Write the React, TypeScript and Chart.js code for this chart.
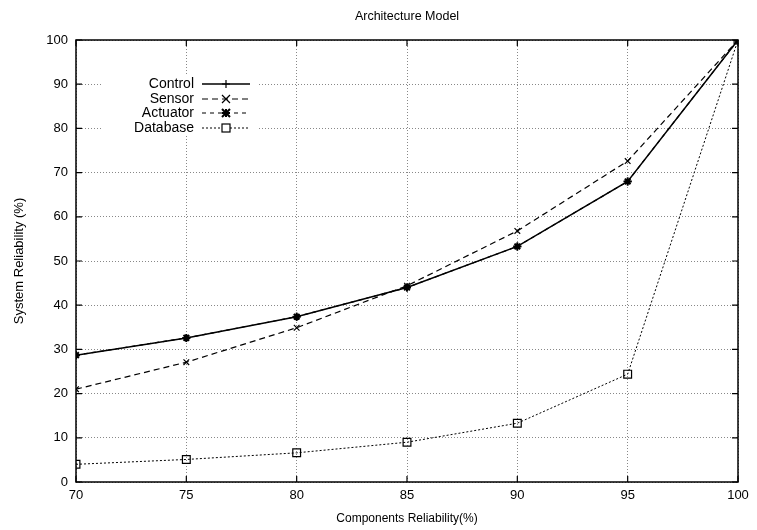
import React, { useEffect, useRef } from "react";
import { Chart, registerables } from "chart.js";

Chart.register(...registerables);

const componentReliability = [70, 75, 80, 85, 90, 95, 100];
const controlValues = [28.7, 32.6, 37.4, 44.0, 53.3, 68.0, 100];
const sensorValues = [21.0, 27.1, 34.9, 44.4, 56.8, 72.6, 100];
const actuatorValues = [28.7, 32.6, 37.4, 44.0, 53.3, 68.0, 100];
const databaseValues = [4.0, 5.1, 6.6, 9.0, 13.3, 24.4, 100];
const seriesNames = ["Control", "Sensor", "Actuator", "Database"];

const FONT = "'Liberation Sans', Arial, Helvetica, sans-serif";

const toPoints = (ys: number[]) => componentReliability.map((x, i) => ({ x, y: ys[i] }));

export default function App() {
  const ref = useRef<HTMLCanvasElement | null>(null);

  useEffect(() => {
    document.body.style.margin = "0";
    const canvas = ref.current!;
    const styles = [
      { dash: [] as number[], width: 1.5, point: "cross", pr: 4 },
      { dash: [6, 4], width: 1.2, point: "crossRot", pr: 4 },
      { dash: [4, 4], width: 1.2, point: "star", pr: 4 },
      { dash: [2, 2], width: 1, point: "rect", pr: 5.5 },
    ];

    const framePlugin = {
      id: "framePlugin",
      afterDraw(chart: any) {
        const { ctx, chartArea: a, scales } = chart;
        const xs = scales.x, ys = scales.y;
        ctx.save();
        const lx = 103, ly = 76, lw = 154, lh = 60;
        ctx.fillStyle = "#fff";
        ctx.fillRect(lx, ly, lw, lh);
        ctx.fillStyle = "#000";
        ctx.font = `12.5px ${FONT}`;
        ctx.textAlign = "center";
        ctx.textBaseline = "middle";
        ctx.fillText("Architecture Model", (a.left + a.right) / 2, 17);
        ctx.strokeStyle = "#000";
        ctx.lineWidth = 1.5;
        ctx.setLineDash([]);
        ctx.strokeRect(a.left, a.top, a.right - a.left, a.bottom - a.top);
        ctx.lineWidth = 1.2;
        const tl = 6;
        ctx.beginPath();
        for (let v = 70; v <= 100; v += 5) {
          const px = xs.getPixelForValue(v);
          ctx.moveTo(px, a.bottom); ctx.lineTo(px, a.bottom - tl);
          ctx.moveTo(px, a.top); ctx.lineTo(px, a.top + tl);
        }
        for (let v = 0; v <= 100; v += 10) {
          const py = ys.getPixelForValue(v);
          ctx.moveTo(a.left, py); ctx.lineTo(a.left + tl, py);
          ctx.moveTo(a.right, py); ctx.lineTo(a.right - tl, py);
        }
        ctx.stroke();
        ctx.font = `14px ${FONT}`;
        ctx.textAlign = "right";
        const rows = [84, 99, 113, 128];
        seriesNames.forEach((name, i) => {
          const st = styles[i];
          const y = rows[i];
          ctx.fillStyle = "#000";
          ctx.fillText(name, 194, y);
          ctx.strokeStyle = "#000";
          ctx.lineWidth = st.width;
          ctx.setLineDash(st.dash);
          ctx.beginPath();
          ctx.moveTo(202, y); ctx.lineTo(250, y);
          ctx.stroke();
          ctx.setLineDash([]);
          ctx.lineWidth = i === 2 ? 2 : 1.2;
          const cx = 226;
          const r = 4;
          ctx.beginPath();
          if (st.point === "cross") {
            ctx.moveTo(cx - r, y); ctx.lineTo(cx + r, y);
            ctx.moveTo(cx, y - r); ctx.lineTo(cx, y + r);
          } else if (st.point === "crossRot") {
            ctx.moveTo(cx - r, y - r); ctx.lineTo(cx + r, y + r);
            ctx.moveTo(cx - r, y + r); ctx.lineTo(cx + r, y - r);
          } else if (st.point === "star") {
            ctx.moveTo(cx - r, y); ctx.lineTo(cx + r, y);
            ctx.moveTo(cx, y - r); ctx.lineTo(cx, y + r);
            ctx.moveTo(cx - r, y - r); ctx.lineTo(cx + r, y + r);
            ctx.moveTo(cx - r, y + r); ctx.lineTo(cx + r, y - r);
          }
          ctx.stroke();
          if (st.point === "rect") {
            ctx.lineWidth = 1.2;
            ctx.fillStyle = "#fff";
            ctx.fillRect(cx - r, y - r, 2 * r, 2 * r);
            ctx.strokeRect(cx - r, y - r, 2 * r, 2 * r);
          }
        });
        ctx.restore();
      },
    };

    const vals = [controlValues, sensorValues, actuatorValues, databaseValues];
    const chart = new Chart(canvas, {
      type: "line",
      data: {
        datasets: seriesNames.map((name, i) => ({
          label: name,
          data: toPoints(vals[i]),
          borderColor: "#000",
          backgroundColor: styles[i].point === "rect" ? "rgba(255,255,255,0)" : "#000",
          borderWidth: styles[i].width,
          borderDash: styles[i].dash,
          pointStyle: styles[i].point as any,
          pointRadius: styles[i].pr,
          pointBorderWidth: styles[i].point === "star" ? 2 : 1.2,
          pointBorderColor: "#000",
          tension: 0,
          fill: false,
        })),
      },
      options: {
        animation: false,
        responsive: false,
        layout: { padding: { top: 40, right: 19, left: 0, bottom: 0 } },
        plugins: { legend: { display: false }, title: { display: false }, tooltip: { enabled: false } },
        scales: {
          x: {
            type: "linear",
            min: 70,
            max: 100,
            border: { display: false, dash: [1, 2] },
            grid: { color: "#888", lineWidth: 1, drawTicks: false },
            ticks: { stepSize: 5, color: "#000", font: { family: FONT, size: 13 }, padding: 6 },
            title: { display: true, text: "Components Reliability(%)", color: "#000", font: { family: FONT, size: 12 }, padding: { top: 2, bottom: 4 } },
            afterFit: (s: any) => { s.height = 48; },
          },
          y: {
            min: 0,
            max: 100,
            border: { display: false, dash: [1, 2] },
            grid: { color: "#888", lineWidth: 1, drawTicks: false },
            ticks: { stepSize: 10, color: "#000", font: { family: FONT, size: 13 }, padding: 8 },
            title: { display: true, text: "System Reliability (%)", color: "#000", font: { family: FONT, size: 13 }, padding: { top: 12, bottom: 4 } },
            afterFit: (s: any) => { s.width = 76; },
          },
        },
      },
      plugins: [framePlugin],
    } as any);
    return () => chart.destroy();
  }, []);

  return (
    <div style={{ width: 757, height: 530, background: "#fff" }}>
      <canvas ref={ref} width={757} height={530} style={{ display: "block" }} />
    </div>
  );
}
